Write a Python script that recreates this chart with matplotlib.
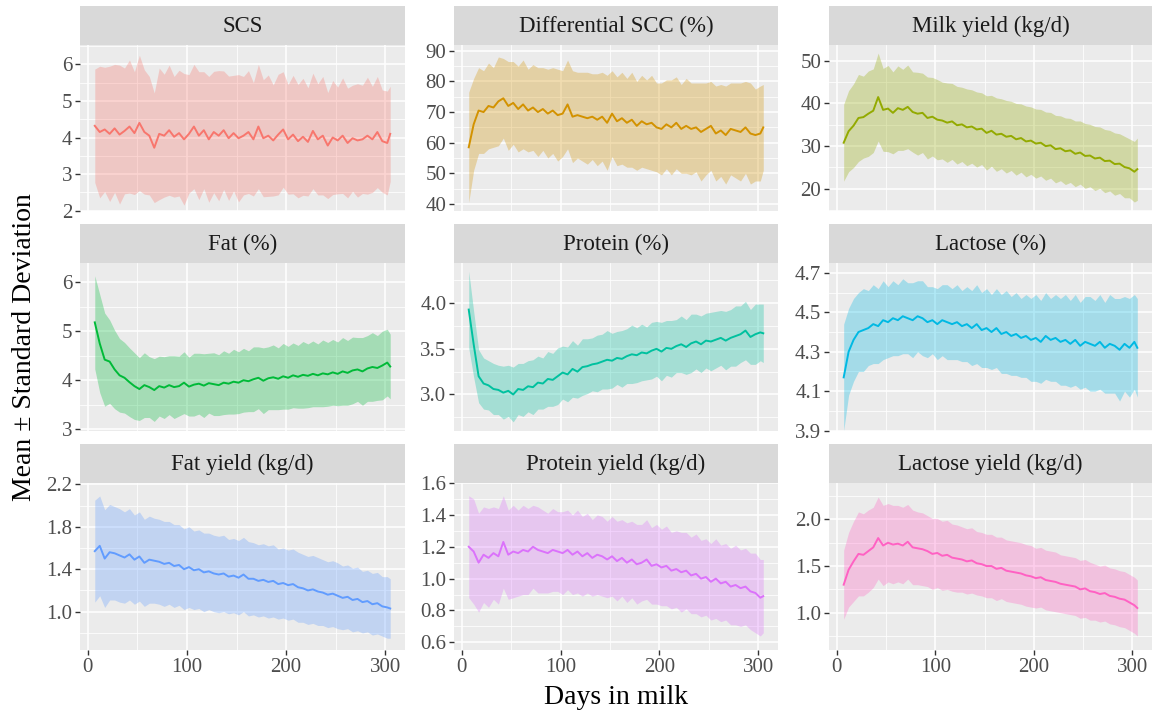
import matplotlib
matplotlib.use("Agg")
import matplotlib.pyplot as plt
import numpy as np

plt.rcParams['font.family'] = ['Liberation Serif', 'DejaVu Serif']

# days in milk (x values shared by every panel)
DAYS = list(range(7, 303, 5)) + [305]

TITLES = ["SCS", "Differential SCC (%)", "Milk yield (kg/d)",
          "Fat (%)", "Protein (%)", "Lactose (%)",
          "Fat yield (kg/d)", "Protein yield (kg/d)", "Lactose yield (kg/d)"]

COLORS = ["#F8766D", "#D39200", "#93AA00", "#00BA38", "#00C19F",
          "#00B9E3", "#619CFF", "#DB72FB", "#FF61C3"]

# ---- means and standard deviations ----
scs_mean = [4.32, 4.15, 4.22, 4.10, 4.25, 4.08, 4.18, 4.30, 4.12, 4.40, 4.15, 4.05, 3.72, 4.10, 4.05, 4.20,
            4.02, 4.12, 3.95, 4.10, 4.30, 4.05, 4.20, 3.95, 4.15, 4.05, 4.20, 3.98, 4.12, 3.98, 4.05, 4.15,
            3.95, 4.30, 3.98, 4.05, 3.92, 4.08, 4.22, 3.95, 4.08, 3.90, 4.02, 3.88, 4.18, 3.95, 4.05, 3.78,
            4.00, 3.92, 4.05, 3.85, 3.98, 3.92, 3.95, 4.05, 3.95, 4.15, 3.90, 3.85, 4.10]
scs_sd = [1.55, 1.80, 1.70, 1.85, 1.75, 1.90, 1.72, 1.82, 1.68, 1.85, 1.70, 1.62, 1.50, 1.80, 1.68, 1.78,
          1.65, 1.72, 1.80, 1.62, 1.70, 1.75, 1.60, 1.72, 1.66, 1.78, 1.62, 1.70, 1.58, 1.74, 1.62, 1.68,
          1.55, 1.70, 1.60, 1.66, 1.52, 1.65, 1.58, 1.50, 1.62, 1.55, 1.60, 1.48, 1.58, 1.52, 1.62, 1.45,
          1.56, 1.46, 1.58, 1.50, 1.45, 1.55, 1.48, 1.60, 1.45, 1.52, 1.40, 1.42, 1.30]

dscc_mean = [58.5, 66.0, 70.5, 70.0, 72.0, 71.5, 73.5, 74.5, 72.0, 73.0, 71.0, 72.5, 70.5, 71.5, 70.0, 71.0,
             69.5, 70.5, 69.0, 69.5, 72.5, 68.5, 69.0, 68.5, 68.0, 68.5, 67.5, 68.5, 66.5, 69.5, 67.0, 68.0,
             66.5, 67.5, 65.5, 67.0, 66.0, 66.5, 65.0, 64.5, 66.0, 65.0, 66.5, 64.5, 65.5, 64.5, 65.0, 63.5,
             64.5, 65.5, 63.0, 64.0, 62.5, 64.5, 64.0, 63.5, 65.0, 63.0, 62.5, 63.0, 65.0]
dscc_sd = [18.0, 15.0, 14.0, 13.5, 14.0, 13.0, 14.5, 13.0, 14.5, 13.5, 14.0, 14.5, 13.5, 14.0, 14.5, 13.5,
           14.5, 14.0, 15.0, 14.0, 14.5, 15.0, 14.0, 14.5, 15.0, 14.0, 15.0, 14.5, 15.5, 14.0, 14.5, 15.0,
           14.5, 15.5, 14.5, 15.0, 14.5, 15.5, 14.5, 15.0, 14.5, 15.5, 15.0, 14.5, 15.5, 15.0, 14.5, 16.0,
           15.0, 14.5, 15.5, 15.0, 16.0, 15.0, 15.5, 16.0, 15.0, 16.5, 15.0, 15.5, 14.0]

milk_mean = [30.8, 33.5, 34.8, 36.6, 36.8, 37.6, 38.3, 41.5, 38.5, 38.8, 37.8, 38.9, 38.5, 39.2, 38.0, 37.6,
             37.8, 36.6, 36.9, 36.2, 36.0, 35.5, 35.8, 34.9, 35.1, 34.4, 34.6, 33.9, 34.1, 33.1, 33.6, 32.7,
             32.9, 32.2, 32.4, 31.6, 31.9, 31.1, 31.3, 30.6, 30.8, 30.0, 30.2, 29.3, 29.5, 28.8, 29.0, 28.2,
             28.5, 27.7, 27.8, 27.1, 27.3, 26.5, 26.6, 25.8, 25.9, 25.1, 24.8, 24.0, 24.6]
milk_sd = [9.0, 9.5, 9.8, 10.2, 9.6, 10.0, 9.8, 10.3, 9.7, 10.1, 9.6, 9.9, 9.5, 9.8, 9.4, 9.7,
           9.3, 9.6, 9.2, 9.4, 9.0, 9.3, 8.9, 9.1, 8.7, 9.0, 8.6, 8.8, 8.4, 8.7, 8.3, 8.6,
           8.2, 8.5, 8.1, 8.4, 8.0, 8.3, 7.9, 8.1, 7.8, 8.0, 7.7, 7.9, 7.6, 7.8, 7.5, 7.7,
           7.4, 7.6, 7.3, 7.5, 7.2, 7.4, 7.1, 7.3, 7.0, 7.2, 6.9, 7.1, 7.3]

fat_mean = [5.18, 4.75, 4.42, 4.38, 4.22, 4.10, 4.05, 3.96, 3.88, 3.82, 3.90, 3.86, 3.80, 3.88, 3.85, 3.90,
            3.86, 3.88, 3.95, 3.87, 3.91, 3.93, 3.89, 3.94, 3.92, 3.90, 3.95, 3.93, 3.97, 3.95, 4.00, 3.98,
            4.02, 4.05, 3.99, 4.04, 4.06, 4.03, 4.08, 4.05, 4.10, 4.07, 4.11, 4.09, 4.13, 4.10, 4.14, 4.12,
            4.16, 4.13, 4.18, 4.15, 4.20, 4.22, 4.18, 4.24, 4.27, 4.25, 4.30, 4.36, 4.28]
fat_sd = [0.95, 1.00, 0.95, 0.85, 0.80, 0.75, 0.72, 0.70, 0.68, 0.64, 0.66, 0.62, 0.64, 0.61, 0.63, 0.60,
          0.64, 0.61, 0.63, 0.60, 0.64, 0.62, 0.65, 0.61, 0.64, 0.62, 0.65, 0.62, 0.66, 0.63, 0.65, 0.62,
          0.66, 0.63, 0.67, 0.64, 0.66, 0.63, 0.67, 0.64, 0.66, 0.64, 0.68, 0.65, 0.67, 0.64, 0.68, 0.65,
          0.67, 0.65, 0.69, 0.66, 0.68, 0.65, 0.69, 0.67, 0.70, 0.66, 0.70, 0.68, 0.66]

prot_mean = [3.93, 3.55, 3.20, 3.12, 3.10, 3.06, 3.05, 3.02, 3.04, 3.00, 3.06, 3.05, 3.09, 3.08, 3.13, 3.12,
             3.17, 3.16, 3.20, 3.24, 3.22, 3.28, 3.25, 3.30, 3.31, 3.33, 3.34, 3.36, 3.38, 3.37, 3.40, 3.39,
             3.42, 3.44, 3.43, 3.46, 3.45, 3.48, 3.50, 3.47, 3.51, 3.50, 3.53, 3.55, 3.52, 3.56, 3.58, 3.55,
             3.59, 3.58, 3.60, 3.62, 3.59, 3.62, 3.64, 3.66, 3.70, 3.63, 3.66, 3.68, 3.67]
prot_sd = [0.42, 0.36, 0.29, 0.28, 0.27, 0.28, 0.27, 0.29, 0.28, 0.30, 0.28, 0.29, 0.28, 0.30, 0.29, 0.28,
           0.30, 0.29, 0.31, 0.29, 0.30, 0.31, 0.29, 0.31, 0.30, 0.29, 0.31, 0.30, 0.32, 0.30, 0.29, 0.31,
           0.30, 0.32, 0.30, 0.31, 0.29, 0.31, 0.30, 0.32, 0.30, 0.31, 0.29, 0.31, 0.30, 0.32, 0.30, 0.31,
           0.30, 0.32, 0.31, 0.30, 0.32, 0.31, 0.33, 0.31, 0.32, 0.30, 0.33, 0.31, 0.32]

lact_mean = [4.17, 4.30, 4.36, 4.40, 4.41, 4.42, 4.44, 4.43, 4.46, 4.45, 4.47, 4.46, 4.48, 4.47, 4.46, 4.48,
             4.47, 4.45, 4.46, 4.44, 4.46, 4.45, 4.44, 4.45, 4.43, 4.44, 4.42, 4.44, 4.41, 4.42, 4.40, 4.42,
             4.39, 4.40, 4.38, 4.39, 4.37, 4.38, 4.36, 4.37, 4.35, 4.38, 4.36, 4.37, 4.35, 4.36, 4.34, 4.36,
             4.33, 4.35, 4.34, 4.33, 4.35, 4.32, 4.34, 4.33, 4.31, 4.34, 4.32, 4.35, 4.32]
lact_sd = [0.27, 0.22, 0.21, 0.20, 0.21, 0.19, 0.20, 0.19, 0.20, 0.18, 0.19, 0.18, 0.19, 0.18, 0.19, 0.18,
           0.19, 0.18, 0.17, 0.18, 0.18, 0.19, 0.18, 0.19, 0.18, 0.19, 0.19, 0.20, 0.19, 0.20, 0.19, 0.20,
           0.20, 0.21, 0.20, 0.21, 0.20, 0.21, 0.21, 0.22, 0.21, 0.22, 0.21, 0.22, 0.22, 0.23, 0.22, 0.23,
           0.22, 0.23, 0.24, 0.23, 0.24, 0.23, 0.25, 0.24, 0.26, 0.24, 0.25, 0.24, 0.25]

fatyld_mean = [1.57, 1.62, 1.50, 1.56, 1.55, 1.53, 1.51, 1.54, 1.49, 1.52, 1.46, 1.49, 1.48, 1.47, 1.45, 1.46,
               1.43, 1.44, 1.40, 1.42, 1.39, 1.40, 1.37, 1.38, 1.36, 1.35, 1.36, 1.33, 1.34, 1.32, 1.35, 1.31,
               1.31, 1.29, 1.30, 1.28, 1.29, 1.26, 1.27, 1.25, 1.26, 1.23, 1.22, 1.20, 1.21, 1.19, 1.18, 1.16,
               1.17, 1.15, 1.13, 1.14, 1.11, 1.12, 1.09, 1.10, 1.07, 1.08, 1.05, 1.04, 1.03]
fatyld_sd = [0.48, 0.47, 0.46, 0.45, 0.44, 0.44, 0.43, 0.43, 0.42, 0.42, 0.41, 0.41, 0.40, 0.40, 0.40, 0.39,
             0.39, 0.38, 0.38, 0.38, 0.37, 0.37, 0.37, 0.36, 0.36, 0.36, 0.36, 0.35, 0.35, 0.35, 0.35, 0.35,
             0.34, 0.34, 0.34, 0.34, 0.34, 0.33, 0.33, 0.33, 0.33, 0.33, 0.32, 0.32, 0.32, 0.32, 0.31, 0.31,
             0.31, 0.31, 0.30, 0.30, 0.30, 0.30, 0.29, 0.29, 0.29, 0.29, 0.28, 0.29, 0.28]

protyld_mean = [1.20, 1.17, 1.10, 1.15, 1.13, 1.16, 1.14, 1.23, 1.15, 1.17, 1.16, 1.18, 1.17, 1.20, 1.18, 1.17,
                1.16, 1.18, 1.17, 1.16, 1.18, 1.15, 1.17, 1.14, 1.16, 1.13, 1.15, 1.14, 1.12, 1.14, 1.11, 1.13,
                1.10, 1.12, 1.09, 1.10, 1.12, 1.08, 1.09, 1.07, 1.08, 1.05, 1.06, 1.04, 1.05, 1.02, 1.03, 1.00,
                1.01, 0.98, 1.00, 0.97, 0.98, 0.95, 0.96, 0.94, 0.95, 0.92, 0.91, 0.88, 0.89]
protyld_sd = [0.32, 0.33, 0.31, 0.30, 0.31, 0.29, 0.30, 0.29, 0.28, 0.29, 0.27, 0.28, 0.27, 0.26, 0.27, 0.26,
              0.25, 0.26, 0.25, 0.26, 0.25, 0.25, 0.26, 0.25, 0.25, 0.24, 0.25, 0.25, 0.24, 0.25, 0.25, 0.24,
              0.25, 0.24, 0.25, 0.24, 0.25, 0.24, 0.25, 0.24, 0.25, 0.24, 0.24, 0.25, 0.24, 0.24, 0.25, 0.24,
              0.24, 0.24, 0.25, 0.24, 0.24, 0.24, 0.25, 0.24, 0.24, 0.24, 0.25, 0.24, 0.23]

lactyld_mean = [1.30, 1.46, 1.55, 1.63, 1.62, 1.66, 1.70, 1.80, 1.72, 1.75, 1.73, 1.74, 1.72, 1.76, 1.70, 1.69,
                1.68, 1.66, 1.63, 1.64, 1.61, 1.62, 1.59, 1.58, 1.57, 1.55, 1.56, 1.53, 1.52, 1.50, 1.50, 1.47,
                1.48, 1.45, 1.44, 1.43, 1.42, 1.40, 1.39, 1.37, 1.38, 1.35, 1.34, 1.33, 1.31, 1.30, 1.29, 1.28,
                1.25, 1.26, 1.23, 1.22, 1.20, 1.21, 1.18, 1.17, 1.15, 1.14, 1.11, 1.08, 1.05]
lactyld_sd = [0.37, 0.40, 0.43, 0.45, 0.44, 0.44, 0.43, 0.44, 0.43, 0.42, 0.42, 0.41, 0.41, 0.40, 0.40, 0.39,
              0.39, 0.38, 0.38, 0.37, 0.37, 0.37, 0.36, 0.36, 0.35, 0.35, 0.35, 0.34, 0.34, 0.34, 0.34, 0.34,
              0.33, 0.33, 0.33, 0.33, 0.33, 0.33, 0.33, 0.32, 0.32, 0.32, 0.32, 0.32, 0.31, 0.31, 0.31, 0.31,
              0.31, 0.31, 0.31, 0.30, 0.30, 0.30, 0.30, 0.30, 0.30, 0.30, 0.30, 0.30, 0.30]

MEANS = [scs_mean, dscc_mean, milk_mean, fat_mean, prot_mean, lact_mean,
         fatyld_mean, protyld_mean, lactyld_mean]
SDS = [scs_sd, dscc_sd, milk_sd, fat_sd, prot_sd, lact_sd,
       fatyld_sd, protyld_sd, lactyld_sd]

Y_TICKS = [[2, 3, 4, 5, 6], [40, 50, 60, 70, 80, 90], [20, 30, 40, 50],
           [3, 4, 5, 6], [3.0, 3.5, 4.0], [3.9, 4.1, 4.3, 4.5, 4.7],
           [1.0, 1.4, 1.8, 2.2], [0.6, 0.8, 1.0, 1.2, 1.4, 1.6], [1.0, 1.5, 2.0]]
Y_FMT = ["{:.0f}", "{:.0f}", "{:.0f}", "{:.0f}", "{:.1f}", "{:.1f}", "{:.1f}", "{:.1f}", "{:.1f}"]
Y_LIMS = [(1.99, 6.53), (37.7, 91.9), (14.8, 53.7), (2.965, 6.39), (2.60, 4.44),
          (3.898, 4.75), (0.639, 2.212), (0.552, 1.60), (0.60, 2.39)]
X_TICKS = [0, 100, 200, 300]
X_LIM = (-7.9, 319.9)

# ---- layout (pixels) ----
W, H = 1159, 715
COL_X = [(80, 405), (454, 778), (829, 1152)]
ROW_Y = [(45, 211), (263, 431), (483, 650)]
STRIP_H = 39


def rect(x0, x1, y0, y1):
    return [x0 / W, 1 - y1 / H, (x1 - x0) / W, (y1 - y0) / H]


fig = plt.figure(figsize=(W / 100, H / 100), dpi=100)
fig.patch.set_facecolor("white")

for i in range(9):
    r, c = divmod(i, 3)
    x0, x1 = COL_X[c]
    y0, y1 = ROW_Y[r]
    ax = fig.add_axes(rect(x0, x1, y0, y1))
    ax.set_facecolor("#EBEBEB")
    for s in ax.spines.values():
        s.set_visible(False)

    days = np.array(DAYS)
    m = np.array(MEANS[i])
    sd = np.array(SDS[i])
    ax.fill_between(days, m - sd, m + sd, color=COLORS[i], alpha=0.3, linewidth=0, zorder=2)
    ax.plot(days, m, color=COLORS[i], lw=1.4, zorder=3)

    ax.set_xlim(*X_LIM)
    ax.set_ylim(*Y_LIMS[i])
    yt = Y_TICKS[i]
    ax.set_yticks(yt)
    ax.set_yticklabels([Y_FMT[i].format(v) for v in yt])
    step = yt[1] - yt[0]
    minors = [yt[0] - step / 2] + [v + step / 2 for v in yt]
    minors = [v for v in minors if Y_LIMS[i][0] < v < Y_LIMS[i][1]]
    ax.set_yticks(minors, minor=True)
    ax.set_xticks(X_TICKS)
    ax.set_xticks([50, 150, 250], minor=True)

    ax.grid(True, which="major", color="white", lw=1.1, zorder=1)
    ax.grid(True, which="minor", color="white", lw=0.55, zorder=1)
    ax.set_axisbelow(True)

    ax.tick_params(axis="y", which="major", length=3.5, width=1, color="#333333",
                   labelsize=15, labelcolor="#4D4D4D", pad=2)
    ax.tick_params(axis="both", which="minor", length=0)
    if r == 2:
        ax.tick_params(axis="x", which="major", length=3.5, width=1, color="#333333",
                       labelsize=15, labelcolor="#4D4D4D", pad=2)
    else:
        ax.tick_params(axis="x", which="major", length=0, labelbottom=False)

    # strip on top
    sax = fig.add_axes(rect(x0, x1, y0 - STRIP_H, y0))
    sax.set_facecolor("#D9D9D9")
    sax.set_xticks([])
    sax.set_yticks([])
    for s in sax.spines.values():
        s.set_visible(False)
    sax.text(0.5, 0.48, TITLES[i], ha="center", va="center", fontsize=16.5,
             color="#1A1A1A", transform=sax.transAxes)

fig.text(616 / W, 1 - 697 / H, "Days in milk", ha="center", va="center", fontsize=20, color="black")
fig.text(25 / W, 1 - 347 / H, "Mean ± Standard Deviation", ha="center", va="center",
         rotation=90, fontsize=20, color="black")

fig.savefig("out.png", dpi=100)
